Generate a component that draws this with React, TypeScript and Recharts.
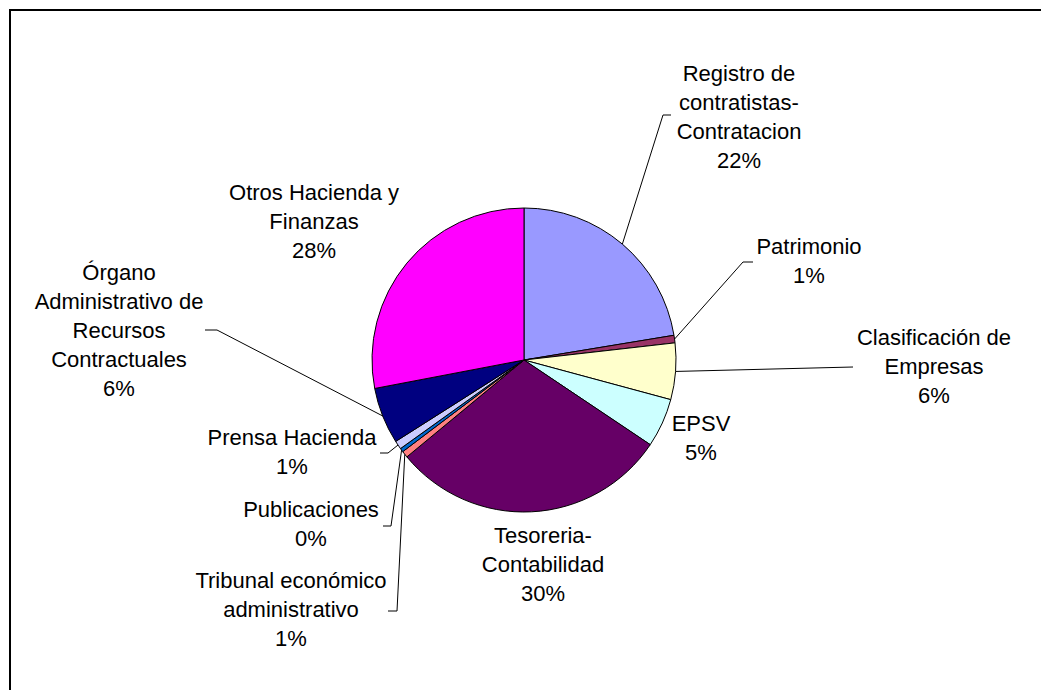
import React from "react";
import { PieChart, Pie, Cell } from "recharts";

// Category names ("\n" = line break used in the label)
const NAMES = [
  "Registro de\ncontratistas-\nContratacion",
  "Patrimonio",
  "Clasificación de\nEmpresas",
  "EPSV",
  "Tesoreria-\nContabilidad",
  "Tribunal económico\nadministrativo",
  "Publicaciones",
  "Prensa Hacienda",
  "Órgano\nAdministrativo de\nRecursos\nContractuales",
  "Otros Hacienda y\nFinanzas",
];

// share of total (%)
const VALUES = [22.4, 0.8, 6.0, 5.2, 29.6, 0.7, 0.4, 0.9, 6.0, 28.0];

const COLORS = [
  "#9999FF",
  "#993366",
  "#FFFFCC",
  "#CCFFFF",
  "#660066",
  "#FF8080",
  "#0066CC",
  "#CCCCFF",
  "#000080",
  "#FF00FF",
];

// label placement: centre x, first baseline y, leader [endX, endY, elbowX, elbowY] or null
const LABEL_POS: { x: number; y: number; leader: number[] | null }[] = [
  { x: 739, y: 81, leader: [671, 115, 663, 115] },
  { x: 809, y: 254, leader: [753, 262, 743, 262] },
  { x: 934, y: 345, leader: [853, 367, 853, 367] },
  { x: 701, y: 431, leader: null },
  { x: 543, y: 543, leader: null },
  { x: 291, y: 588, leader: [388, 611, 397, 611] },
  { x: 311, y: 517, leader: [383, 526, 391, 526] },
  { x: 292, y: 445, leader: [380, 453, 388, 453] },
  { x: 119, y: 280, leader: [205, 330, 217, 330] },
  { x: 314, y: 200, leader: null },
];

const FONT = "'Liberation Sans', Arial, sans-serif";
const RAD = Math.PI / 180;
const LINE_H = 29;

const renderLabel = (props: any) => {
  const { cx, cy, midAngle, outerRadius, percent, index } = props;
  const pos = LABEL_POS[index];
  const lines = [...NAMES[index].split("\n"), `${Math.round(percent * 100)}%`];
  const ex = cx + outerRadius * Math.cos(-midAngle * RAD);
  const ey = cy + outerRadius * Math.sin(-midAngle * RAD);
  return (
    <g key={`lbl-${index}`}>
      {pos.leader && (
        <polyline
          points={`${pos.leader[0]},${pos.leader[1]} ${pos.leader[2]},${pos.leader[3]} ${ex},${ey}`}
          fill="none"
          stroke="#000"
          strokeWidth={1}
        />
      )}
      <text x={pos.x} y={pos.y} textAnchor="middle" fontFamily={FONT} fontSize={22} fill="#000">
        {lines.map((l, i) => (
          <tspan key={i} x={pos.x} dy={i === 0 ? 0 : LINE_H}>
            {l}
          </tspan>
        ))}
      </text>
    </g>
  );
};

export default function App() {
  const data = NAMES.map((name, i) => ({ name, value: VALUES[i] }));
  return (
    <div style={{ position: "absolute", left: 0, top: 0, width: 1041, height: 690, overflow: "hidden", background: "#fff" }}>
      <div
        style={{
          position: "absolute",
          left: 9,
          top: 9,
          width: 1100,
          height: 800,
          borderLeft: "2px solid #000",
          borderTop: "2px solid #000",
        }}
      />
      <div style={{ position: "absolute", left: 0, top: 0 }}>
        <PieChart width={1041} height={690} margin={{ top: 0, right: 0, bottom: 0, left: 0 }}>
          <Pie
            data={data}
            dataKey="value"
            nameKey="name"
            cx={524}
            cy={360}
            outerRadius={152}
            startAngle={90}
            endAngle={-270}
            stroke="#000"
            strokeWidth={1}
            label={renderLabel}
            labelLine={false}
            isAnimationActive={false}
          >
            {data.map((d, i) => (
              <Cell key={d.name} fill={COLORS[i]} />
            ))}
          </Pie>
        </PieChart>
      </div>
    </div>
  );
}
